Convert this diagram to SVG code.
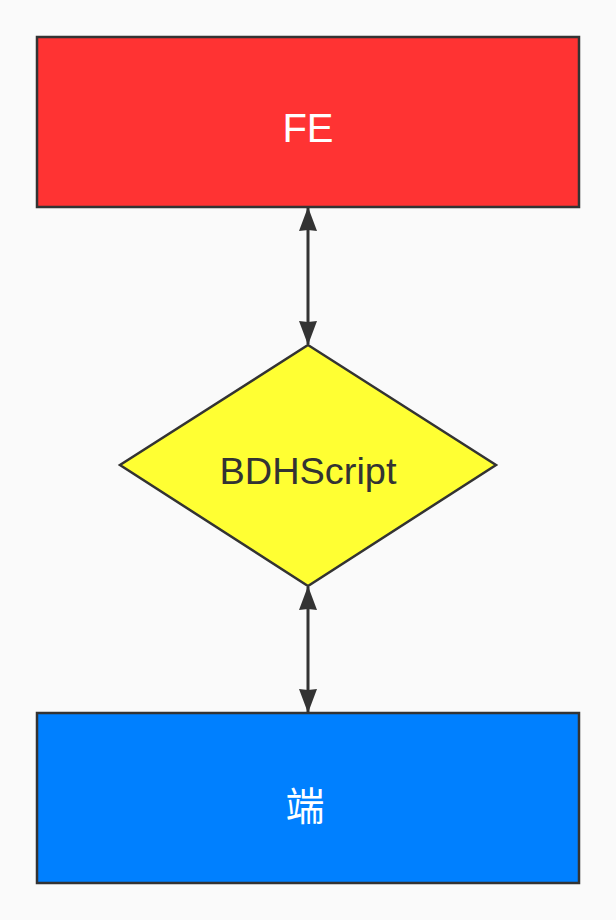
<svg xmlns="http://www.w3.org/2000/svg" width="616" height="920" viewBox="0 0 616 920">
  <style>
    .node { stroke: #333333; stroke-width: 2.5; }
    .lbl { font-family: "Liberation Sans", "Noto Sans CJK SC", sans-serif; text-anchor: middle; }
    .conn { stroke: #333333; stroke-width: 3; fill: none; }
  </style>
  <defs>
    <marker id="arr" viewBox="0 0 24 18" refX="23" refY="9" markerWidth="24" markerHeight="18" markerUnits="userSpaceOnUse" orient="auto-start-reverse">
      <path d="M0,0 L24,9 L0,18 L1,9 Z" fill="#333333"/>
    </marker>
  </defs>
  <rect width="616" height="920" fill="#fafafa"/>
  <g id="connectors">
    <line class="conn" x1="308" y1="208" x2="308" y2="344" marker-start="url(#arr)" marker-end="url(#arr)"/>
    <line class="conn" x1="308" y1="587" x2="308" y2="712" marker-start="url(#arr)" marker-end="url(#arr)"/>
  </g>
  <g id="node-fe">
    <rect class="node" x="37" y="37" width="542" height="170" fill="#ff3333"/>
    <text class="lbl" x="308" y="142" font-size="40" fill="#ffffff">FE</text>
  </g>
  <g id="node-bdhscript">
    <polygon class="node" points="308,345 496,465 308,586 120,465" fill="#ffff33"/>
    <text class="lbl" x="308" y="484" font-size="36" fill="#333333" textLength="177" lengthAdjust="spacingAndGlyphs">BDHScript</text>
  </g>
  <g id="node-duan">
    <rect class="node" x="37" y="713" width="542" height="170" fill="#0080ff"/>
    <text class="lbl" x="305" y="820" font-size="39" fill="#ffffff">端</text>
  </g>
</svg>
